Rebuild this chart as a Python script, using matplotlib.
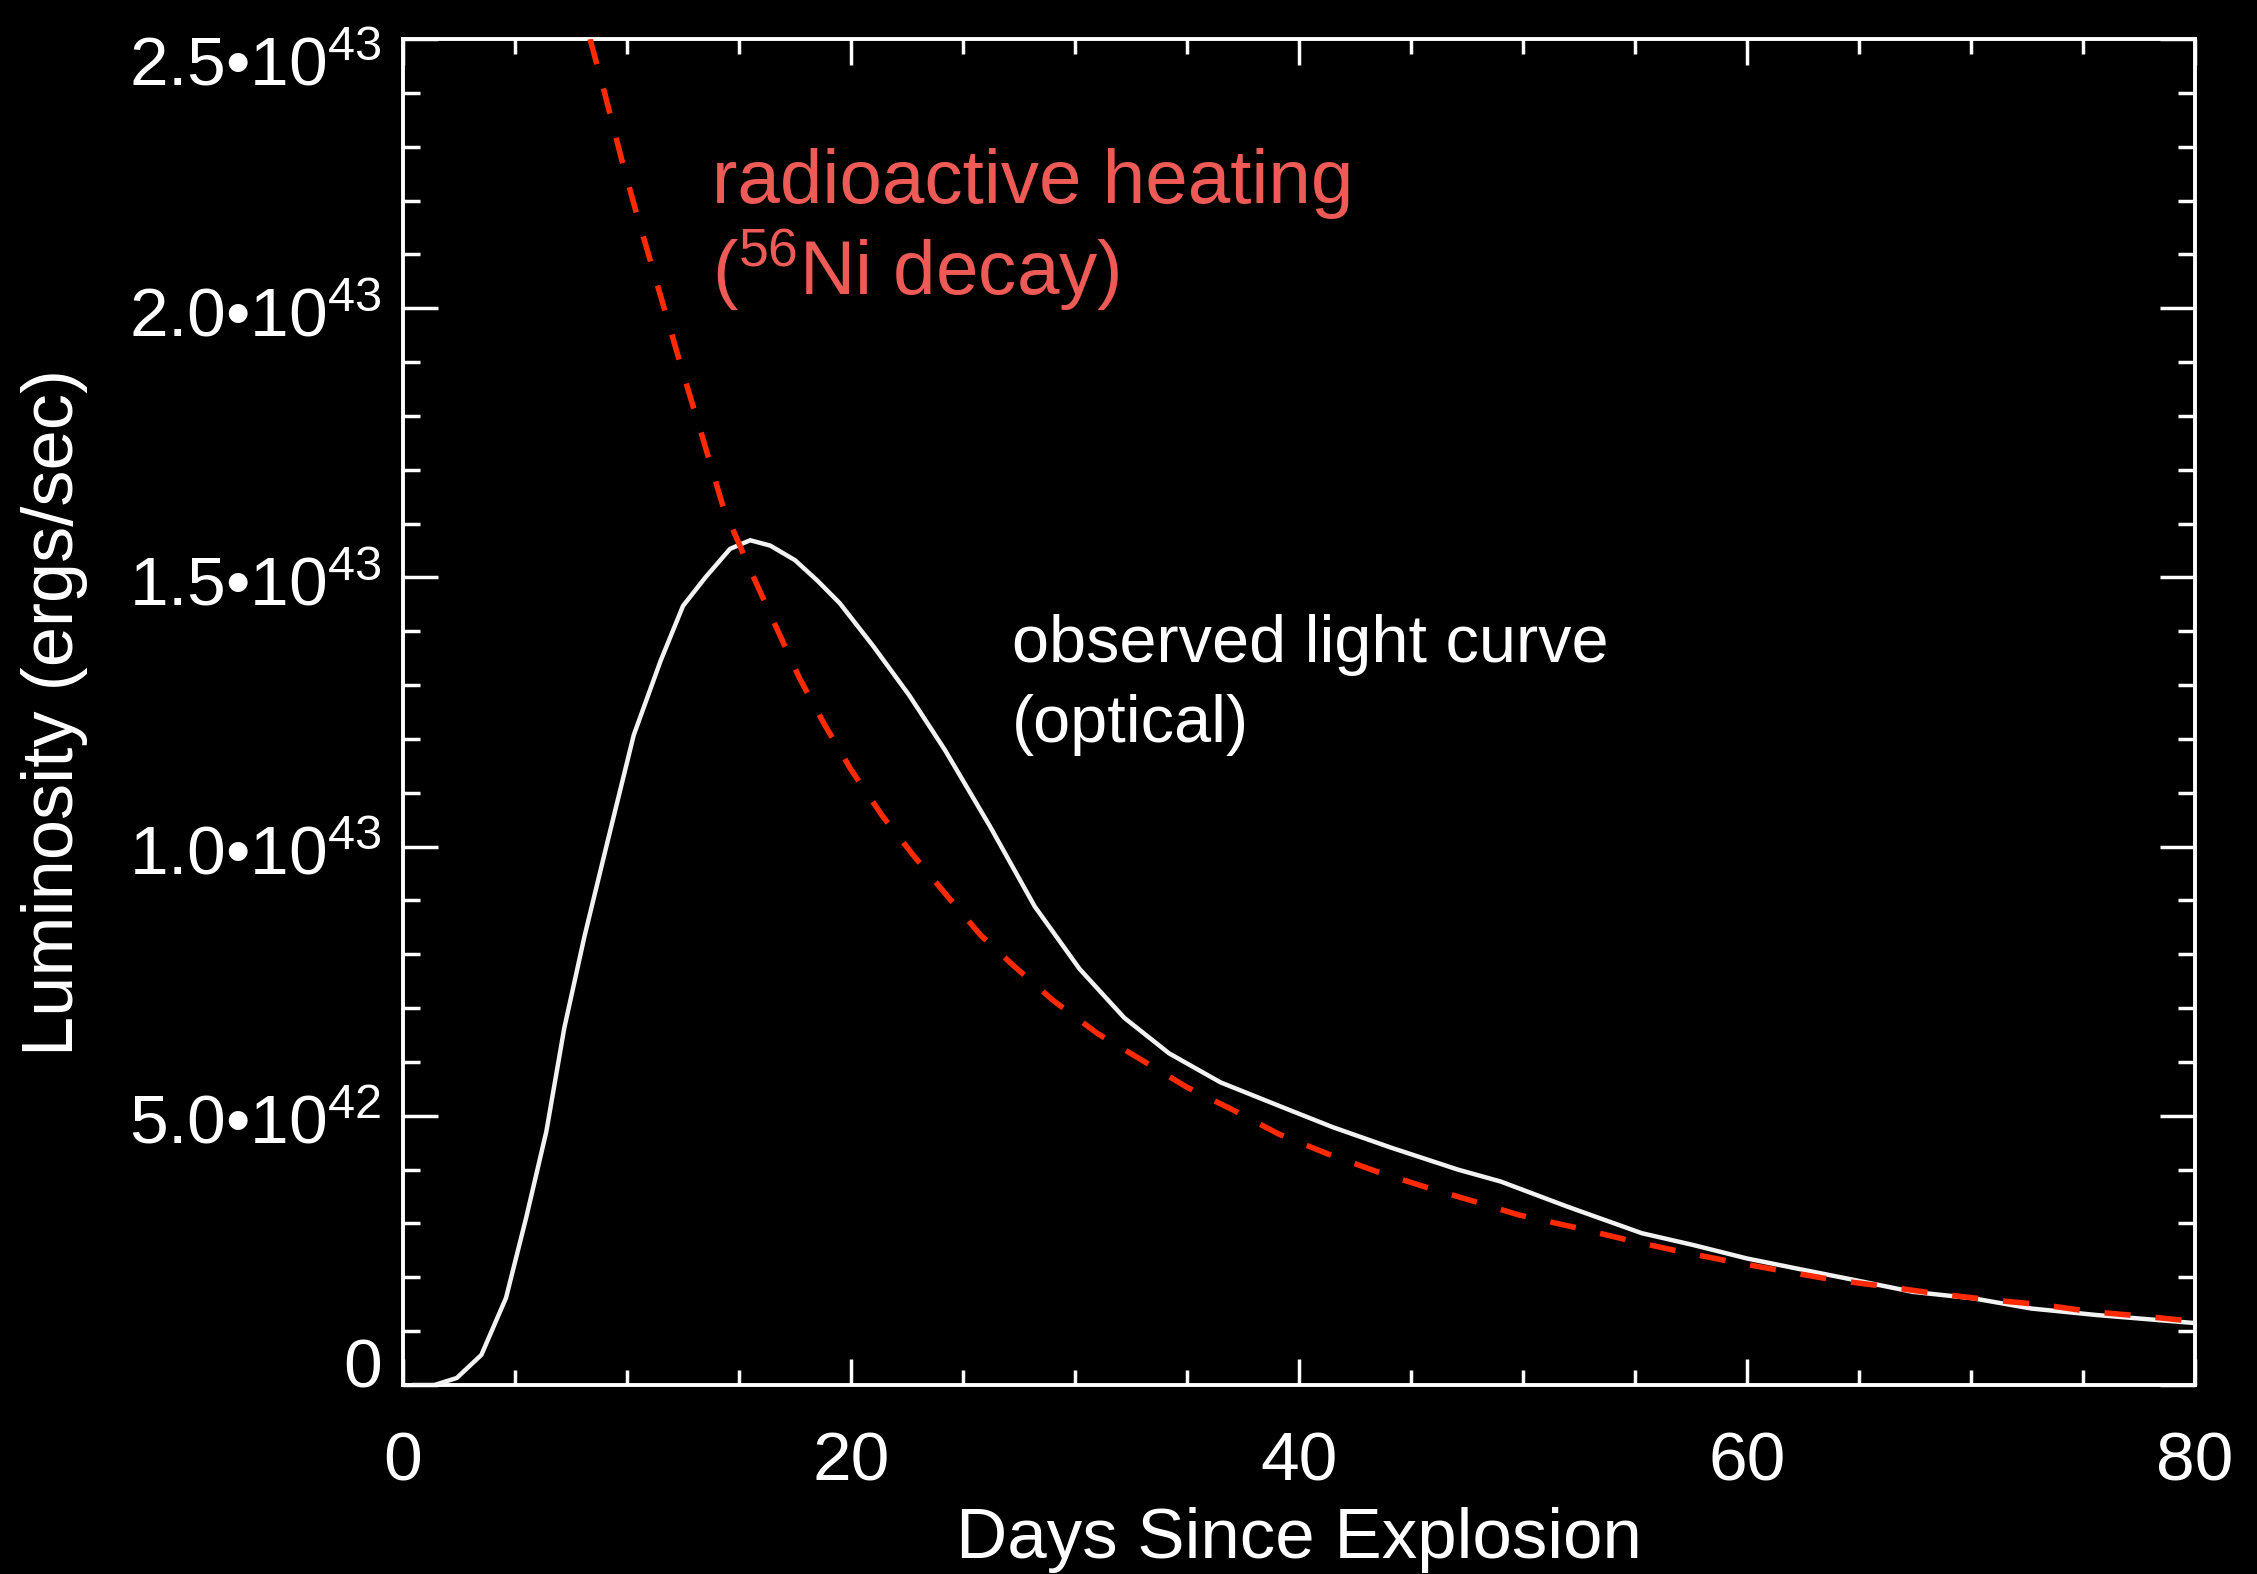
# plot.py
# Type Ia supernova light curve vs. radioactive (56Ni) heating

# Imports --------------------------------------------

import matplotlib
matplotlib.use('Agg')
from matplotlib import pyplot as plt
from matplotlib import transforms
from matplotlib.ticker import MultipleLocator

# Fonts --------------------------------------------

plt.rcParams['font.family'] = ['Liberation Sans', 'DejaVu Sans']
plt.rcParams['mathtext.fontset'] = 'custom'
plt.rcParams['mathtext.rm'] = 'Liberation Sans'
plt.rcParams['mathtext.it'] = 'Liberation Sans:italic'
plt.rcParams['mathtext.bf'] = 'Liberation Sans:bold'

# Data (luminosity in units of 1e43 erg/s) --------------------------------------------

obsDays = [0.5, 1.4, 2.4, 3.5, 4.6, 5.5, 6.4, 7.2, 8.1, 9.1, 10.3, 11.5, 12.5, 13.5,
           14.6, 15.5, 16.4, 17.5, 18.5, 19.5, 21.0, 22.6, 24.2, 26.2, 28.2, 30.2,
           32.2, 34.2, 36.5, 39.5, 41.5, 44.1, 47.1, 49.0, 52.0, 55.3, 57.6, 60.0,
           62.5, 64.8, 67.4, 70.1, 72.7, 75.6, 80.0]
obsLum = [0.0, 0.0, 0.013, 0.056, 0.162, 0.311, 0.471, 0.663, 0.833, 1.004, 1.207,
          1.345, 1.447, 1.500, 1.553, 1.569, 1.559, 1.532, 1.494, 1.452, 1.372, 1.281,
          1.179, 1.038, 0.889, 0.773, 0.682, 0.616, 0.562, 0.512, 0.479, 0.441, 0.400,
          0.378, 0.331, 0.282, 0.260, 0.235, 0.214, 0.195, 0.173, 0.161, 0.142, 0.130,
          0.115]

niDays = [8.35, 9.0, 9.8, 10.4, 11.1, 11.8, 12.5, 13.3, 14.3, 15.6, 16.7, 17.7, 18.8,
          20.0, 21.4, 22.8, 24.3, 25.8, 27.2, 29.0, 31.0, 33.0, 35.0, 37.0, 39.1, 41.3,
          43.5, 45.7, 47.9, 49.8, 52.5, 54.7, 57.0, 59.2, 61.7, 63.9, 66.2, 68.4, 70.9,
          73.2, 75.4, 77.9, 80.0]
niLum = [2.50, 2.40, 2.27, 2.18, 2.08, 1.98, 1.88, 1.77, 1.63, 1.505, 1.404, 1.313,
         1.228, 1.143, 1.057, 0.983, 0.908, 0.835, 0.781, 0.715, 0.653, 0.603, 0.553,
         0.512, 0.466, 0.429, 0.396, 0.367, 0.340, 0.316, 0.291, 0.269, 0.248, 0.230,
         0.211, 0.195, 0.183, 0.170, 0.158, 0.149, 0.136, 0.127, 0.118]

xTickVals = [0, 20, 40, 60, 80]
yTickVals = [0, 0.5e43, 1.0e43, 1.5e43, 2.0e43, 2.5e43]
yTickLabels = ['0',
               r'5.0•$\mathregular{10^{42}}$',
               r'1.0•$\mathregular{10^{43}}$',
               r'1.5•$\mathregular{10^{43}}$',
               r'2.0•$\mathregular{10^{43}}$',
               r'2.5•$\mathregular{10^{43}}$']

# Presets --------------------------------------------

dpi = 100
fgCol = 'white'
curveCol = '#F2F2F2'
dashCol = '#FF2A00'
noteCol = '#EE5A55'
yLabelDrop = [2, 28, 28, 28, 28, 46]  # px below the tick for each label baseline

# Plot --------------------------------------------

fig = plt.figure(figsize=(2257 / dpi, 1574 / dpi), dpi=dpi, facecolor='black')
ax = fig.add_axes([403 / 2257, 1 - 1385 / 1574, 1792 / 2257, 1346 / 1574])
ax.set_facecolor('black')

scale = 1e43
ax.plot(obsDays, [v * scale for v in obsLum], color=curveCol, lw=3.2, zorder=3)
ax.plot(niDays, [v * scale for v in niLum], color=dashCol, lw=4.0,
        dashes=(4.7, 4.5), zorder=4)

ax.set_xlim(0, 80)
ax.set_ylim(0, 2.5e43)

for s in ax.spines.values():
    s.set_color(fgCol)
    s.set_linewidth(2.8)

ax.set_xticks(xTickVals)
ax.xaxis.set_minor_locator(MultipleLocator(5))
ax.set_yticks(yTickVals)
ax.set_yticklabels([])
ax.yaxis.set_minor_locator(MultipleLocator(0.1e43))

ax.tick_params(axis='x', which='major', direction='in', length=19, width=2.5,
               top=True, colors=fgCol, labelsize=50, pad=33)
ax.tick_params(axis='x', which='minor', direction='in', length=11, width=2.5,
               top=True, colors=fgCol)
ax.tick_params(axis='y', which='major', direction='in', length=25, width=2.5,
               right=True, colors=fgCol, labelleft=False)
ax.tick_params(axis='y', which='minor', direction='in', length=12, width=2.5,
               right=True, colors=fgCol)

# y tick labels drawn by hand to get IDL-like placement
for val, lab, drop in zip(yTickVals, yTickLabels, yLabelDrop):
    trans = ax.get_yaxis_transform() + transforms.ScaledTranslation(
        -21 / dpi, -drop / dpi, fig.dpi_scale_trans)
    ax.text(0, val, lab, transform=trans, ha='right', va='baseline',
            fontsize=50, color=fgCol)

ax.set_xlabel('Days Since Explosion', fontsize=51, color=fgCol, va='baseline')
ax.xaxis.set_label_coords(0.5, -0.1285)
ax.set_ylabel('Luminosity (ergs/sec)', fontsize=52, color=fgCol)
ax.yaxis.set_label_coords(-0.1758, 0.5)

# annotations
ax.text(0.1724, 0.878, 'radioactive heating', transform=ax.transAxes,
        fontsize=55, color=noteCol, va='baseline', ha='left')
ax.text(0.1724, 0.8098, r'($\mathregular{^{56}}$Ni decay)', transform=ax.transAxes,
        fontsize=55, color=noteCol, va='baseline', ha='left')
ax.text(0.3398, 0.5371, 'observed light curve', transform=ax.transAxes,
        fontsize=48, color=fgCol, va='baseline', ha='left')
ax.text(0.3398, 0.4777, '(optical)', transform=ax.transAxes,
        fontsize=48, color=fgCol, va='baseline', ha='left')

fig.savefig('out.png', dpi=dpi, facecolor='black')
